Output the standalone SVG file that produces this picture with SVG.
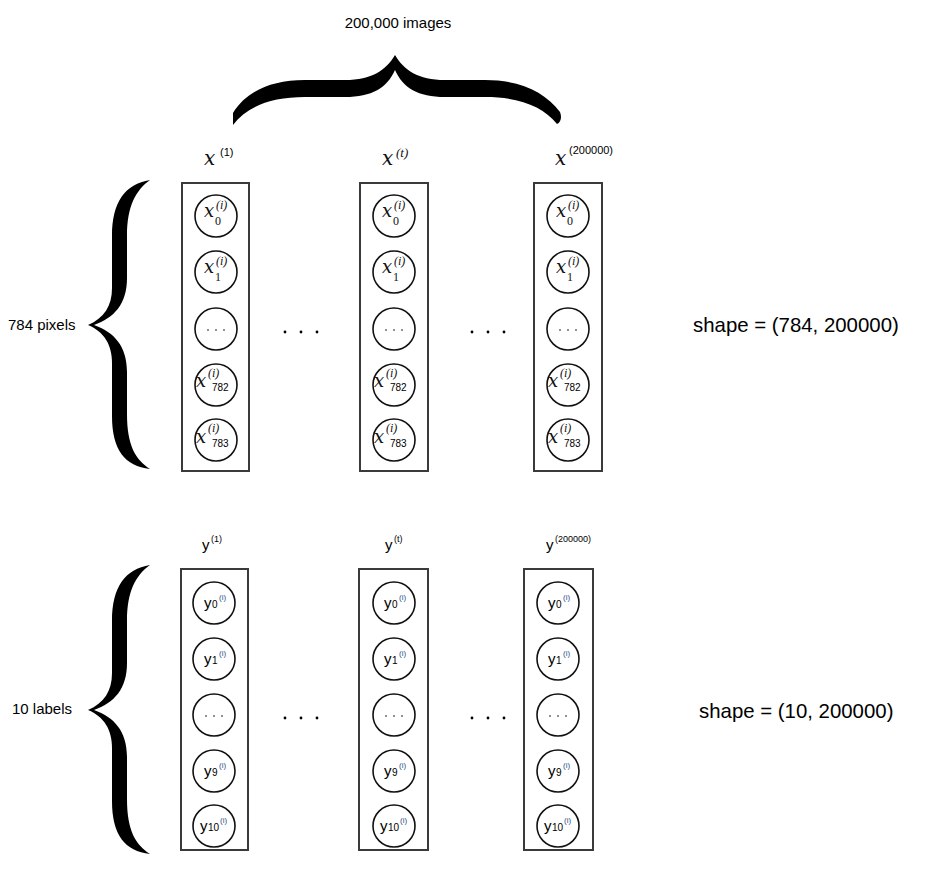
<svg xmlns="http://www.w3.org/2000/svg" xmlns:xlink="http://www.w3.org/1999/xlink" width="928" height="880" viewBox="0 0 928 880">
<style>
.box{fill:none;stroke:#3a3a3a;stroke-width:2}
.node{fill:#fff;stroke:#111;stroke-width:1.6}
.lbl{font-family:"Liberation Sans",Arial,sans-serif;fill:#000}
.mx{font-family:"DejaVu Serif","Liberation Serif",serif;font-style:italic;fill:#111}
.mi{font-family:"Liberation Serif","Times New Roman",serif;font-style:italic;fill:#111}
.mn{font-family:"Liberation Serif","Times New Roman",serif;fill:#111}
.sa{font-family:"Liberation Sans",Arial,sans-serif;fill:#000}
.sup{font-family:"Liberation Sans",Arial,sans-serif;fill:#2b4f8a}
.dot{fill:#777}
.bdot{fill:#000}
.brace{fill:#000}
</style>
<defs>
<path id="vbrace" d="M150,180 C125,184 112,202 112,236 L112,288 C112,306 104,318 88,325 C104,332 112,344 112,364 L112,416 C112,450 125,466 150,469 C136,460 127,446 127,414 L127,372 C127,346 114,332 94,325 C114,318 127,304 127,278 L127,236 C127,206 136,190 150,180 Z"/>
<g id="dots3"><circle cx="-8" cy="0" r="1.1"/><circle cx="0" cy="0" r="1.1"/><circle cx="8" cy="0" r="1.1"/></g>
<g id="bdots"><circle cx="0" cy="0" r="1.4"/><circle cx="16" cy="0" r="1.4"/><circle cx="32" cy="0" r="1.4"/></g>
</defs>

<g id="braces">
<path class="brace" d="M233,125 L233,113 C246,92 270,80 305,80 L345,80 C372,80 386,70 395,55 C404,70 418,80 445,80 L485,80 C520,80 545,92 560,112 C562,117 561,122 557,124 C543,106 518,97 485,97 L445,97 C418,97 403,88 395,70 C387,88 372,97 345,97 L305,97 C272,97 247,106 233,125 Z"/>
<use xlink:href="#vbrace"/>
<use xlink:href="#vbrace" transform="translate(0,385)"/>
</g>

<g id="texts">
<text class="lbl" x="398" y="28" font-size="15" text-anchor="middle">200,000 images</text>
<text class="lbl" x="8" y="330" font-size="15">784 pixels</text>
<text class="lbl" x="12" y="714" font-size="15">10 labels</text>
<text class="lbl" x="693" y="332" font-size="20.4">shape = (784, 200000)</text>
<text class="lbl" x="699" y="718" font-size="20.4">shape = (10, 200000)</text>
</g>

<g id="ellipses" class="bdot">
<use xlink:href="#bdots" x="285" y="332"/>
<use xlink:href="#bdots" x="472" y="332"/>
<use xlink:href="#bdots" x="285" y="718"/>
<use xlink:href="#bdots" x="472" y="718"/>
</g>

<!-- X columns -->
<g id="col-x1">
<text class="mx" x="204" y="165" font-size="20">x</text>
<text class="sa" x="220" y="156" font-size="11">(1)</text>
<rect class="box" x="182" y="183" width="67" height="288"/>
<circle class="node" cx="216" cy="216" r="21"/>
<text class="mx" x="204" y="217" font-size="18">x</text><text class="mn" x="215" y="225" font-size="12">0</text><text class="mi" x="216" y="209" font-size="12">(i)</text>
<circle class="node" cx="216" cy="272" r="21"/>
<text class="mx" x="204" y="273" font-size="18">x</text><text class="mn" x="215" y="281" font-size="12">1</text><text class="mi" x="216" y="265" font-size="12">(i)</text>
<circle class="node" cx="216" cy="329" r="21"/>
<use xlink:href="#dots3" x="216" y="330" class="dot"/>
<circle class="node" cx="216" cy="385" r="21"/>
<text class="mx" x="196" y="387" font-size="18">x</text><text class="mi" x="208" y="377" font-size="12">(i)</text><text class="sa" x="212" y="391" font-size="10">782</text>
<circle class="node" cx="216" cy="440" r="21"/>
<text class="mx" x="196" y="443" font-size="18">x</text><text class="mi" x="208" y="432" font-size="12">(i)</text><text class="sa" x="212" y="447" font-size="10">783</text>
</g>

<g id="col-xt">
<text class="mx" x="382" y="165" font-size="20">x</text>
<text class="mi" x="396" y="157" font-size="13">(t)</text>
<rect class="box" x="360" y="183" width="68" height="288"/>
<circle class="node" cx="394" cy="216" r="21"/>
<text class="mx" x="382" y="217" font-size="18">x</text><text class="mn" x="393" y="225" font-size="12">0</text><text class="mi" x="394" y="209" font-size="12">(i)</text>
<circle class="node" cx="394" cy="272" r="21"/>
<text class="mx" x="382" y="273" font-size="18">x</text><text class="mn" x="393" y="281" font-size="12">1</text><text class="mi" x="394" y="265" font-size="12">(i)</text>
<circle class="node" cx="394" cy="329" r="21"/>
<use xlink:href="#dots3" x="394" y="330" class="dot"/>
<circle class="node" cx="394" cy="385" r="21"/>
<text class="mx" x="374" y="387" font-size="18">x</text><text class="mi" x="386" y="377" font-size="12">(i)</text><text class="sa" x="390" y="391" font-size="10">782</text>
<circle class="node" cx="394" cy="440" r="21"/>
<text class="mx" x="374" y="443" font-size="18">x</text><text class="mi" x="386" y="432" font-size="12">(i)</text><text class="sa" x="390" y="447" font-size="10">783</text>
</g>

<g id="col-x200000">
<text class="mx" x="555" y="165" font-size="20">x</text>
<text class="sa" x="569" y="154" font-size="11">(200000)</text>
<rect class="box" x="534" y="183" width="68" height="288"/>
<circle class="node" cx="568" cy="216" r="21"/>
<text class="mx" x="556" y="217" font-size="18">x</text><text class="mn" x="567" y="225" font-size="12">0</text><text class="mi" x="568" y="209" font-size="12">(i)</text>
<circle class="node" cx="568" cy="272" r="21"/>
<text class="mx" x="556" y="273" font-size="18">x</text><text class="mn" x="567" y="281" font-size="12">1</text><text class="mi" x="568" y="265" font-size="12">(i)</text>
<circle class="node" cx="568" cy="329" r="21"/>
<use xlink:href="#dots3" x="568" y="330" class="dot"/>
<circle class="node" cx="568" cy="385" r="21"/>
<text class="mx" x="548" y="387" font-size="18">x</text><text class="mi" x="560" y="377" font-size="12">(i)</text><text class="sa" x="564" y="391" font-size="10">782</text>
<circle class="node" cx="568" cy="440" r="21"/>
<text class="mx" x="548" y="443" font-size="18">x</text><text class="mi" x="560" y="432" font-size="12">(i)</text><text class="sa" x="564" y="447" font-size="10">783</text>
</g>

<!-- Y columns -->
<g id="col-y1">
<text class="sa" x="202" y="550" font-size="15">y</text>
<text class="sa" x="211" y="542" font-size="9">(1)</text>
<rect class="box" x="181" y="569" width="67" height="281"/>
<circle class="node" cx="214" cy="603" r="21"/>
<text class="sa" x="204" y="608" font-size="15">y</text><text class="sa" x="212" y="608" font-size="10">0</text><text class="sup" x="219" y="600" font-size="8">(i)</text>
<circle class="node" cx="214" cy="659" r="21"/>
<text class="sa" x="204" y="664" font-size="15">y</text><text class="sa" x="212" y="664" font-size="10">1</text><text class="sup" x="219" y="656" font-size="8">(i)</text>
<circle class="node" cx="214" cy="715" r="21"/>
<use xlink:href="#dots3" x="214" y="716" class="dot"/>
<circle class="node" cx="214" cy="771" r="21"/>
<text class="sa" x="204" y="776" font-size="15">y</text><text class="sa" x="212" y="776" font-size="10">9</text><text class="sup" x="219" y="768" font-size="8">(i)</text>
<circle class="node" cx="214" cy="826" r="21"/>
<text class="sa" x="200" y="831" font-size="15">y</text><text class="sa" x="208" y="831" font-size="10">10</text><text class="sup" x="220" y="823" font-size="8">(i)</text>
</g>

<g id="col-yt">
<text class="sa" x="385" y="550" font-size="15">y</text>
<text class="sa" x="394" y="542" font-size="9">(t)</text>
<rect class="box" x="359" y="569" width="69" height="281"/>
<circle class="node" cx="394" cy="603" r="21"/>
<text class="sa" x="384" y="608" font-size="15">y</text><text class="sa" x="392" y="608" font-size="10">0</text><text class="sup" x="399" y="600" font-size="8">(i)</text>
<circle class="node" cx="394" cy="659" r="21"/>
<text class="sa" x="384" y="664" font-size="15">y</text><text class="sa" x="392" y="664" font-size="10">1</text><text class="sup" x="399" y="656" font-size="8">(i)</text>
<circle class="node" cx="394" cy="715" r="21"/>
<use xlink:href="#dots3" x="394" y="716" class="dot"/>
<circle class="node" cx="394" cy="771" r="21"/>
<text class="sa" x="384" y="776" font-size="15">y</text><text class="sa" x="392" y="776" font-size="10">9</text><text class="sup" x="399" y="768" font-size="8">(i)</text>
<circle class="node" cx="394" cy="826" r="21"/>
<text class="sa" x="380" y="831" font-size="15">y</text><text class="sa" x="388" y="831" font-size="10">10</text><text class="sup" x="400" y="823" font-size="8">(i)</text>
</g>

<g id="col-y200000">
<text class="sa" x="546" y="550" font-size="15">y</text>
<text class="sa" x="555" y="542" font-size="9">(200000)</text>
<rect class="box" x="524" y="569" width="69" height="281"/>
<circle class="node" cx="558" cy="603" r="21"/>
<text class="sa" x="548" y="608" font-size="15">y</text><text class="sa" x="556" y="608" font-size="10">0</text><text class="sup" x="563" y="600" font-size="8">(i)</text>
<circle class="node" cx="558" cy="659" r="21"/>
<text class="sa" x="548" y="664" font-size="15">y</text><text class="sa" x="556" y="664" font-size="10">1</text><text class="sup" x="563" y="656" font-size="8">(i)</text>
<circle class="node" cx="558" cy="715" r="21"/>
<use xlink:href="#dots3" x="558" y="716" class="dot"/>
<circle class="node" cx="558" cy="771" r="21"/>
<text class="sa" x="548" y="776" font-size="15">y</text><text class="sa" x="556" y="776" font-size="10">9</text><text class="sup" x="563" y="768" font-size="8">(i)</text>
<circle class="node" cx="558" cy="826" r="21"/>
<text class="sa" x="544" y="831" font-size="15">y</text><text class="sa" x="552" y="831" font-size="10">10</text><text class="sup" x="564" y="823" font-size="8">(i)</text>
</g>

<g id="connectors"></g>
</svg>
